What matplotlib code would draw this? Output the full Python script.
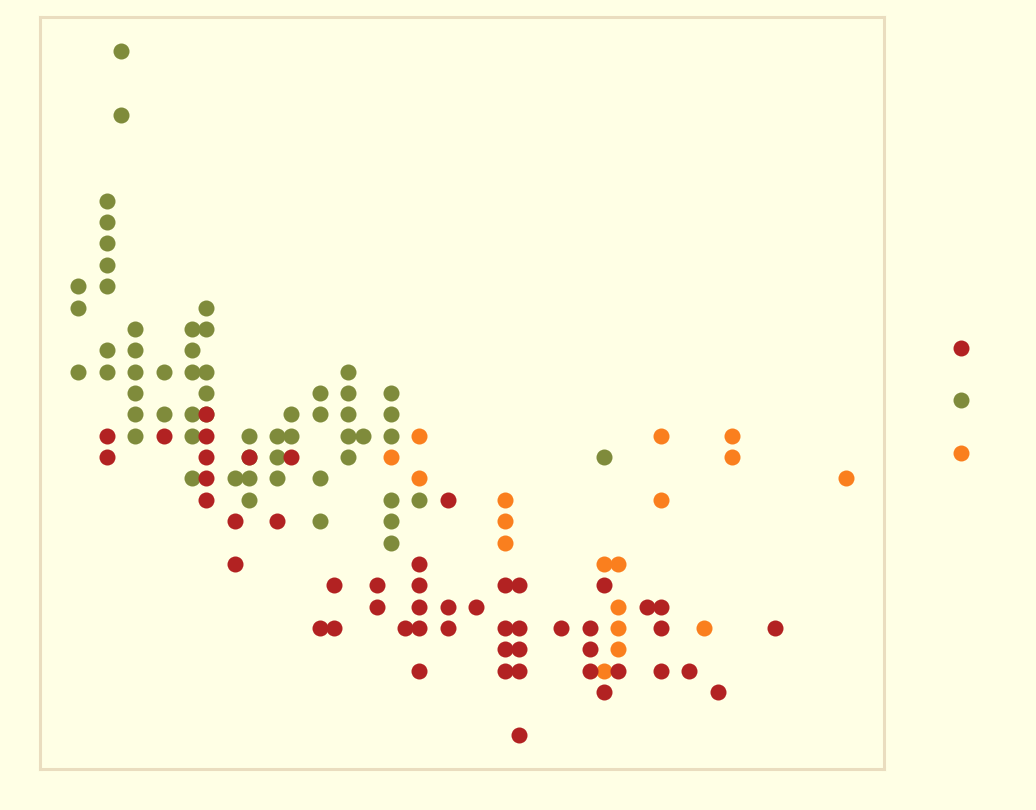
import matplotlib.pyplot as plt
from matplotlib.lines import Line2D

# displ vs hwy, grouped by drive train
f_displ = [1.9, 1.9, 1.8, 1.8, 1.8, 1.8, 1.6, 1.8, 1.6, 2.5,
           2.0, 2.4, 2.5, 1.8, 2.0, 2.4,
           1.6, 1.8, 2.0, 2.2, 2.4, 2.5, 3.5,
           2.0, 2.5, 3.3, 3.5, 3.8,
           2.0, 2.2, 2.4, 2.5, 3.1, 3.3, 3.5, 3.8,
           2.0, 2.4, 2.8, 3.0, 3.1, 3.5, 3.6, 3.8,
           2.8, 3.0, 3.5, 5.3,
           2.4, 2.7, 2.8, 3.0, 3.3,
           2.8, 3.8, 4.0,
           3.3, 3.8,
           3.8]
f_hwy = [44, 41, 37, 36, 35, 34, 33, 33, 32, 32,
         31, 31, 31, 30, 30, 30,
         29, 29, 29, 29, 29, 29, 29,
         28, 28, 28, 28, 28,
         27, 27, 27, 27, 27, 27, 27, 27,
         26, 26, 26, 26, 26, 26, 26, 26,
         25, 25, 25, 25,
         24, 24, 24, 24, 24,
         23, 23, 23,
         22, 22,
         21]

r_displ = [4.0, 5.7, 6.2, 3.8, 6.2, 4.0, 7.0, 4.6, 5.7, 4.6,
           4.6, 5.3, 5.4, 5.4, 5.4, 6.0, 5.4, 5.3]
r_hwy = [26, 26, 26, 25, 25, 24, 24, 23, 23, 22,
         21, 20, 20, 18, 17, 17, 16, 15]

d4_displ = [1.8, 1.8, 2.2, 2.5, 2.5, 2.5, 2.5, 2.5, 2.8, 3.1,
            2.7, 3.0, 2.7, 4.2,
            4.0, 3.4, 3.7, 4.0, 4.6, 4.7, 5.3,
            3.7, 4.0, 4.2, 4.4, 5.6, 5.7,
            3.3, 3.4, 3.9, 4.0, 4.2, 4.6, 4.7, 5.0, 5.2, 5.7, 6.5,
            4.6, 4.7, 5.2,
            4.0, 4.6, 4.7, 5.2, 5.4, 5.7, 5.9,
            5.3, 6.1, 4.7]
d4_hwy = [26, 25, 26, 27, 26, 25, 24, 23, 25, 25,
          22, 22, 20, 23,
          20, 19, 19, 19, 19, 19, 19,
          18, 18, 18, 18, 18, 18,
          17, 17, 17, 17, 17, 17, 17, 17, 17, 17, 17,
          16, 16, 16,
          15, 15, 15, 15, 15, 15, 15,
          14, 14, 12]

BG = "#FFFFE5"
C_4 = "#B22222"
C_F = "#7F8B3B"
C_R = "#FA7F1E"

fig = plt.figure(figsize=(10.36, 8.10), dpi=100, facecolor=BG)
ax = fig.add_axes([0.0386, 0.0506, 0.8147, 0.9284])
ax.set_facecolor(BG)

ax.scatter(f_displ, f_hwy, s=133, color=C_F, linewidths=0, zorder=2)
ax.scatter(r_displ, r_hwy, s=133, color=C_R, linewidths=0, zorder=3)
ax.scatter(d4_displ, d4_hwy, s=133, color=C_4, linewidths=0, zorder=4)

ax.set_xlim(1.33, 7.27)
ax.set_ylim(10.4, 45.6)
ax.set_xticks([])
ax.set_yticks([])
for sp in ax.spines.values():
    sp.set_color("#EADDBF")
    sp.set_linewidth(2.2)

handles = [Line2D([], [], linestyle="none", marker="o", markersize=11.5,
                  markeredgewidth=0, color=c) for c in (C_4, C_F, C_R)]
ax.legend(handles, ["", "", ""], loc="center",
          bbox_to_anchor=(961 / 1036, 1 - 401 / 810),
          bbox_transform=fig.transFigure, frameon=False,
          labelspacing=2.78, handlelength=1.0, handletextpad=0,
          borderpad=0)

fig.savefig("out.png", dpi=100, facecolor=BG)
